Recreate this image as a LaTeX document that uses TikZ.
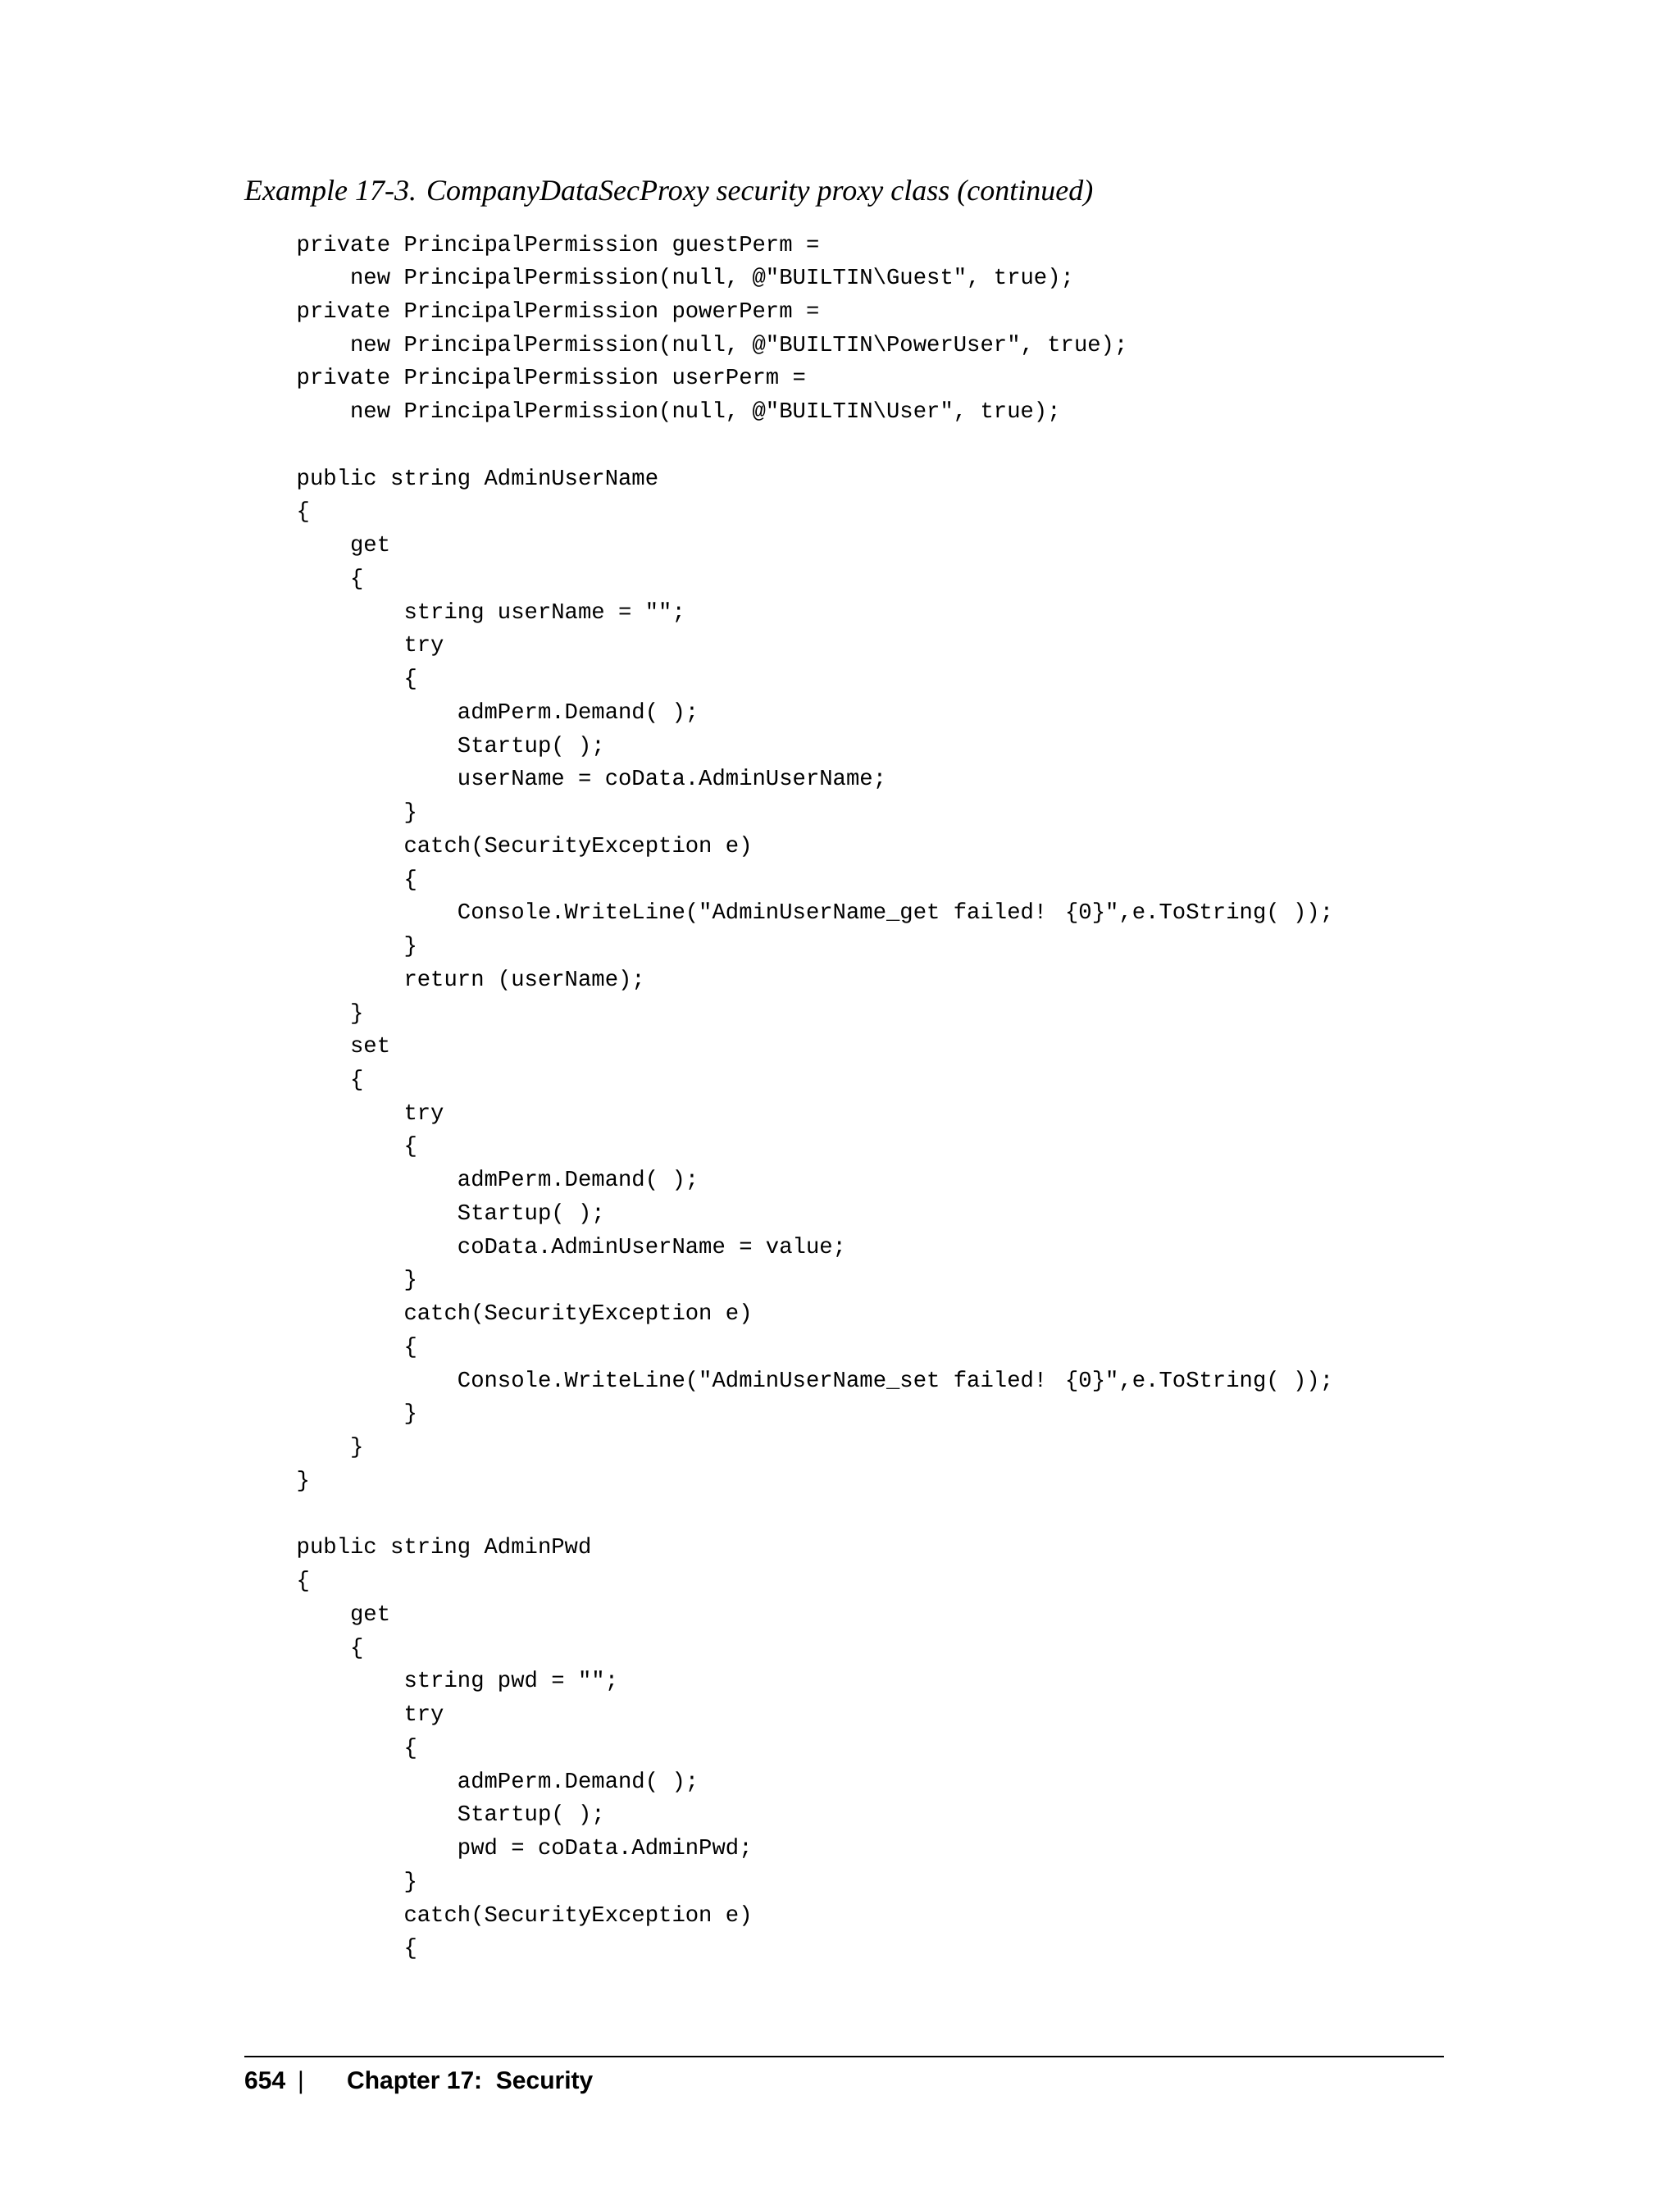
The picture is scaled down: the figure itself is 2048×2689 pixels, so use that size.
\documentclass[tikz,border=0pt]{standalone}
\usepackage{fontspec}
\setmainfont{Liberation Serif}
\newfontfamily\codefont{Liberation Mono}
\newfontfamily\footfont{Liberation Sans}
\begin{document}
\begin{tikzpicture}[x=1pt,y=1pt,
  code/.style={anchor=base west,inner sep=0pt,font=\codefont\fontsize{27.25}{30}\selectfont},
  foot/.style={anchor=base west,inner sep=0pt,font=\footfont\bfseries\fontsize{30}{34}\selectfont}]
\useasboundingbox (0,0) rectangle (2048,-2689);
\newcommand\cl[3]{\node[code] (l#2) at ({361.5+#1*16.35},{-306-(#2-1)*40.74}) {#3};}
\node[anchor=base west,inner sep=0pt,font=\itshape\fontsize{36}{40}\selectfont] (title) at (298,-245) {Example 17-3. CompanyDataSecProxy security proxy class (continued)};
\cl{0}{1}{private PrincipalPermission guestPerm =}
\cl{4}{2}{new PrincipalPermission(null, @"BUILTIN\textbackslash Guest", true);}
\cl{0}{3}{private PrincipalPermission powerPerm =}
\cl{4}{4}{new PrincipalPermission(null, @"BUILTIN\textbackslash PowerUser", true);}
\cl{0}{5}{private PrincipalPermission userPerm =}
\cl{4}{6}{new PrincipalPermission(null, @"BUILTIN\textbackslash User", true);}
\cl{0}{8}{public string AdminUserName}
\cl{0}{9}{\{}
\cl{4}{10}{get}
\cl{4}{11}{\{}
\cl{8}{12}{string userName = "";}
\cl{8}{13}{try}
\cl{8}{14}{\{}
\cl{12}{15}{admPerm.Demand( );}
\cl{12}{16}{Startup( );}
\cl{12}{17}{userName = coData.AdminUserName;}
\cl{8}{18}{\}}
\cl{8}{19}{catch(SecurityException e)}
\cl{8}{20}{\{}
\cl{12}{21}{Console.WriteLine("AdminUserName\_get failed! \{0\}",e.ToString( ));}
\cl{8}{22}{\}}
\cl{8}{23}{return (userName);}
\cl{4}{24}{\}}
\cl{4}{25}{set}
\cl{4}{26}{\{}
\cl{8}{27}{try}
\cl{8}{28}{\{}
\cl{12}{29}{admPerm.Demand( );}
\cl{12}{30}{Startup( );}
\cl{12}{31}{coData.AdminUserName = value;}
\cl{8}{32}{\}}
\cl{8}{33}{catch(SecurityException e)}
\cl{8}{34}{\{}
\cl{12}{35}{Console.WriteLine("AdminUserName\_set failed! \{0\}",e.ToString( ));}
\cl{8}{36}{\}}
\cl{4}{37}{\}}
\cl{0}{38}{\}}
\cl{0}{40}{public string AdminPwd}
\cl{0}{41}{\{}
\cl{4}{42}{get}
\cl{4}{43}{\{}
\cl{8}{44}{string pwd = "";}
\cl{8}{45}{try}
\cl{8}{46}{\{}
\cl{12}{47}{admPerm.Demand( );}
\cl{12}{48}{Startup( );}
\cl{12}{49}{pwd = coData.AdminPwd;}
\cl{8}{50}{\}}
\cl{8}{51}{catch(SecurityException e)}
\cl{8}{52}{\{}
\draw[line width=1.2pt] (298,-2508) coordinate (r1) -- (1761,-2508) coordinate (r2);
\node[foot] (pg) at (298,-2547) {654};
\node[foot,font=\footfont\fontsize{30}{34}\selectfont] (bar) at (363,-2547) {|};
\node[foot] (ch) at (423,-2547) {Chapter 17:\ \ Security};
\end{tikzpicture}
\end{document}
